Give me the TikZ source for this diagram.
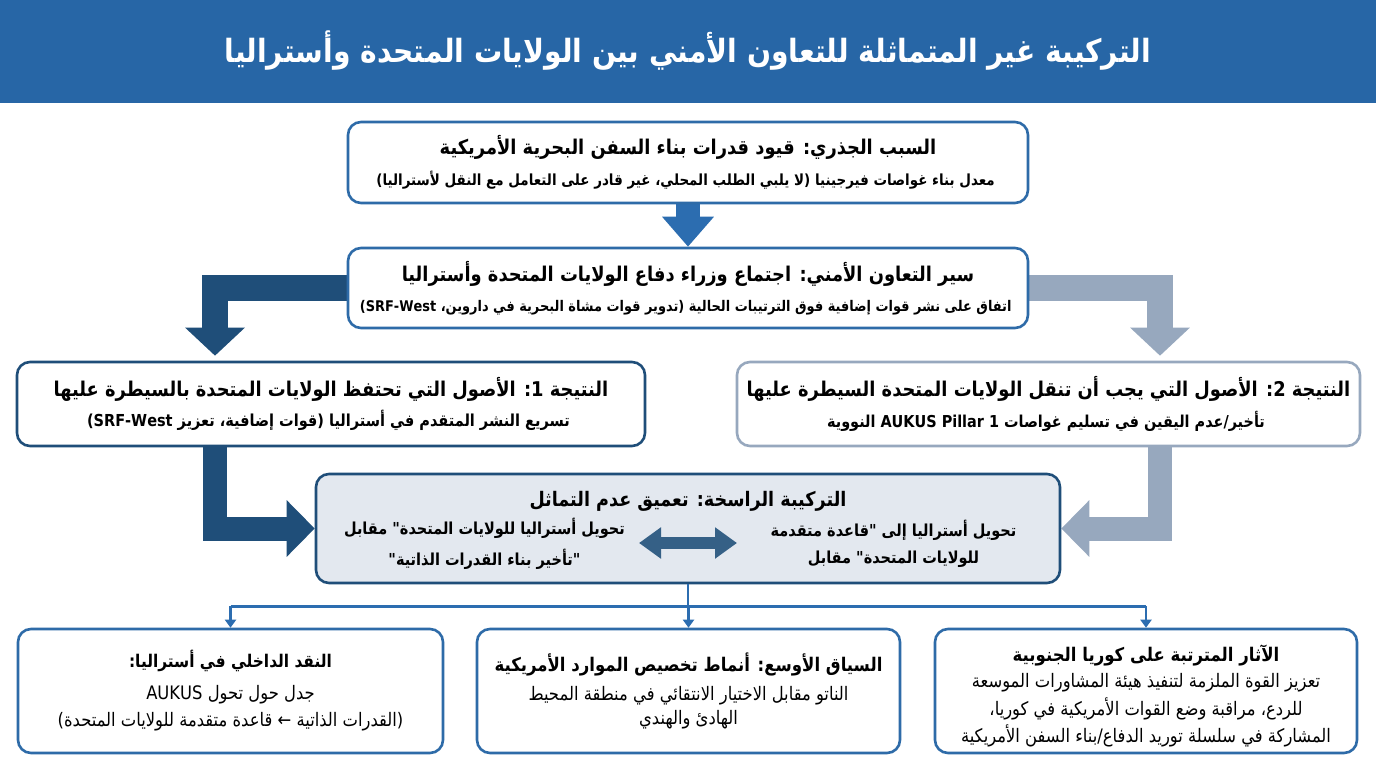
\documentclass[tikz,border=0pt]{standalone}
\usepackage{fontspec}
\setmainfont{DejaVu Sans}
\newfontfamily\arabicfont[Script=Arabic, FakeStretch=0.88]{DejaVu Sans}
\TeXXeTstate=1
\usepackage{tikz}
\usetikzlibrary{arrows.meta, positioning, calc}

\definecolor{bannerblue}{HTML}{2766A6}
\definecolor{boxblue}{HTML}{2E6BA8}
\definecolor{navy}{HTML}{1F4E79}
\definecolor{greyblue}{HTML}{97A8BE}
\definecolor{deepfill}{HTML}{E3E8EF}
\definecolor{arrowblue}{HTML}{2C6DB0}

\pgfdeclarelayer{background}
\pgfsetlayers{background,main}

\newcommand{\artext}[1]{{\arabicfont\beginR #1\endR}}
\newcommand{\headfont}{\fontsize{20.3}{24}\selectfont\bfseries}
\newcommand{\notefont}[1]{\fontsize{#1}{19}\selectfont\bfseries}
\newcommand{\lowhead}{\fontsize{18.8}{22}\selectfont\bfseries}
\newcommand{\lowtext}{\fontsize{18.6}{22}\selectfont}

\tikzset{
  box/.style={draw=boxblue, line width=2.6pt, rounded corners=13pt, fill=white, align=center, inner sep=0pt},
  navybox/.style={box, draw=navy},
  greybox/.style={box, draw=greyblue},
  label/.style={align=center, inner sep=0pt},
  blockarrow/.style={line width=#1, line join=miter},
  bus/.style={draw=arrowblue, line width=2.4pt}
}

\begin{document}
\begin{tikzpicture}[x=1pt, y=-1pt]
  \useasboundingbox (0,0) rectangle (1376,768);

  % --- Banner ---
  \fill[bannerblue] (0,0) rectangle (1376,103);
  \node[label, text=white] (banner) at (688,51)
    {\artext{\fontsize{32}{36}\selectfont\bfseries التركيبة غير المتماثلة للتعاون الأمني بين الولايات المتحدة وأستراليا}};

  % --- Top chain ---
  \node[box, minimum width=680pt, minimum height=81pt] (cause) at (688,162.5)
    {\artext{\headfont السبب الجذري: قيود قدرات بناء السفن البحرية الأمريكية}\\[11pt]
     \artext{\notefont{15.3} معدل بناء غواصات فيرجينيا (لا يلبي الطلب المحلي، غير قادر على التعامل مع النقل لأستراليا)}};
  \node[box, minimum width=680pt, minimum height=80pt] (meeting) at (688,288)
    {\artext{\headfont سير التعاون الأمني: اجتماع وزراء دفاع الولايات المتحدة وأستراليا}\\[13pt]
     \artext{\notefont{14.7} اتفاق على نشر قوات إضافية فوق الترتيبات الحالية (تدوير قوات مشاة البحرية في داروين، \beginL(SRF-West\endL}};

  % --- Results ---
  \node[navybox, minimum width=628pt, minimum height=84pt] (keep) at (331,404)
    {\artext{\headfont النتيجة 1: الأصول التي تحتفظ الولايات المتحدة بالسيطرة عليها}\\[8pt]
     \artext{\notefont{16.5} تسريع النشر المتقدم في أستراليا (قوات إضافية، تعزيز \beginL(SRF-West\endL}};
  \node[greybox, minimum width=623pt, minimum height=84pt] (transfer) at (1048.5,404)
    {\artext{\headfont النتيجة 2: الأصول التي يجب أن تنقل الولايات المتحدة السيطرة عليها}\\[8pt]
     \artext{\notefont{16.4} تأخير/عدم اليقين في تسليم غواصات \beginL AUKUS Pillar 1\endL{} النووية}};

  % --- Entrenched structure ---
  \node[navybox, fill=deepfill, minimum width=744pt, minimum height=109pt] (deep) at (688,528.5) {};
  \node[label] (deeptitle) at (688,501)
    {\artext{\fontsize{20}{24}\selectfont\bfseries التركيبة الراسخة: تعميق عدم التماثل}};
  \node[label] (deepright) at (896,544)
    {\artext{\notefont{16.5} تحويل أستراليا إلى "قاعدة متقدمة}\\[9pt]
     \artext{\notefont{16.5} للولايات المتحدة" مقابل}};
  \node[label] (deepleft) at (487,544)
    {\artext{\notefont{16.5} تحويل أستراليا للولايات المتحدة" مقابل}\\[9pt]
     \artext{\notefont{16.5} "تأخير بناء القدرات الذاتية"}};

  % --- Bottom boxes ---
  \node[box, minimum width=425pt, minimum height=124pt] (critique) at (230.5,691)
    {\artext{\fontsize{17.5}{22}\selectfont\bfseries النقد الداخلي في أستراليا:}\\[12pt]
     \artext{\lowtext جدل حول تحول AUKUS}\\[8pt]
     \artext{\lowtext (القدرات الذاتية ← قاعدة متقدمة للولايات المتحدة)}};
  \node[box, minimum width=423pt, minimum height=124pt] (context) at (688.5,691)
    {\artext{\lowhead السياق الأوسع: أنماط تخصيص الموارد الأمريكية}\\[9pt]
     \artext{\lowtext الناتو مقابل الاختيار الانتقائي في منطقة المحيط}\\[4pt]
     \artext{\lowtext الهادئ والهندي}};
  \node[box, minimum width=422pt, minimum height=124pt] (korea) at (1146,691) {};
  \node[label] (koreatext) at ([yshift=-5pt]korea.center)
    {\artext{\lowhead الآثار المترتبة على كوريا الجنوبية}\\[6pt]
     \artext{\lowtext تعزيز القوة الملزمة لتنفيذ هيئة المشاورات الموسعة}\\[5pt]
     \artext{\lowtext للردع، مراقبة وضع القوات الأمريكية في كوريا،}\\[4pt]
     \artext{\lowtext المشاركة في سلسلة توريد الدفاع/بناء السفن الأمريكية}};

  % --- Block arrows (behind the boxes) ---
  \begin{pgfonlayer}{background}
    \fill[white] (0,103) rectangle (1376,768);
    \draw[arrowblue, blockarrow=24pt, -{Triangle[width=50pt,length=30pt]}]
      (cause.south) -- (meeting.north);
    \draw[navy, blockarrow=26pt, -{Triangle[width=58pt,length=28pt]}]
      (meeting.west) -| ([xshift=-116pt,yshift=5pt]keep.north);
    \draw[greyblue, blockarrow=26pt, -{Triangle[width=58pt,length=28pt]}]
      (meeting.east) -| ([xshift=111.5pt,yshift=5pt]transfer.north);
    \draw[navy, blockarrow=24pt, -{Triangle[width=55pt,length=28pt]}]
      ([xshift=-116pt]keep.south) |- (deep.west);
    \draw[greyblue, blockarrow=24pt, -{Triangle[width=55pt,length=28pt]}]
      ([xshift=111.5pt]transfer.south) |- (deep.east);
  \end{pgfonlayer}

  % double arrow inside the structure box
  \draw[navy!90!white, blockarrow=12pt, {Triangle[width=30pt,length=22pt]}-{Triangle[width=30pt,length=22pt]}]
    ($(deep.center)+(-49,14.5)$) -- ($(deep.center)+(49,14.5)$);

  % --- Bus to bottom boxes ---
  \coordinate (hub) at ($(deep.south)+(0,22)$);
  \draw[bus] (deep.south) -- (hub);
  \draw[bus] (hub -| critique.north) -- (hub -| korea.north);
  \foreach \n in {critique,context,korea}
    \draw[bus, -{Triangle[width=11pt,length=8pt]}] (hub -| \n.north) -- (\n.north);

\end{tikzpicture}
\end{document}
